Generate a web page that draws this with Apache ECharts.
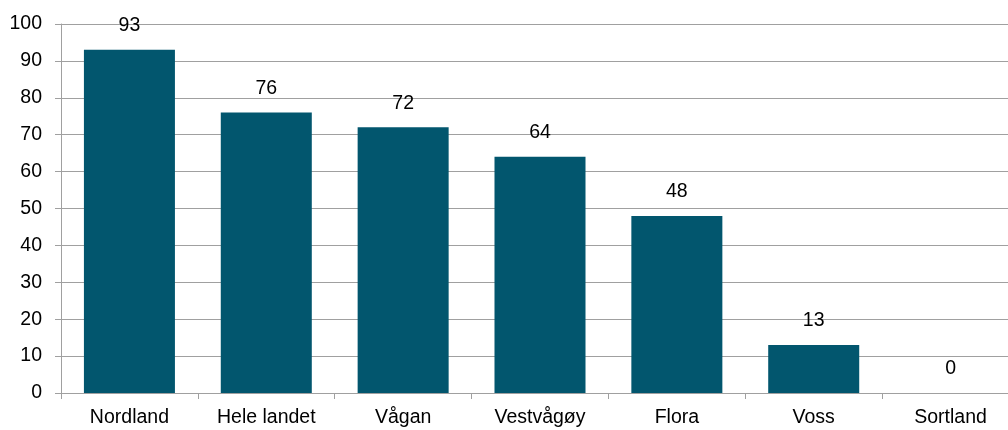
<!DOCTYPE html>
<html>
<head>
<meta charset="utf-8">
<script src="https://cdn.jsdelivr.net/npm/echarts@6/dist/echarts.min.js"></script>
<style>
  html, body { margin: 0; padding: 0; background: #fff; overflow: hidden; }
  #chart { width: 1020px; height: 430px; }
</style>
</head>
<body>
<div id="chart"></div>
<script>
const categories = ['Nordland', 'Hele landet', 'Vågan', 'Vestvågøy', 'Flora', 'Voss', 'Sortland'];
const values = [93, 76, 72, 64, 48, 13, 0];
const yTicks = { min: 0, max: 100, interval: 10 };

const font = 'Arial, "Liberation Sans", sans-serif';

// plot area runs a bit past the right edge of the picture, like the original
const chart = echarts.init(document.getElementById('chart'));
chart.setOption({
  animation: false,
  grid: { left: 61, top: 24, bottom: 37, right: 1 },
  xAxis: {
    type: 'category',
    data: categories,
    axisLine: { lineStyle: { color: '#a0a0a0', width: 1 } },
    axisTick: { show: true, length: 6, lineStyle: { color: '#a0a0a0' } },
    axisLabel: { color: '#000', fontSize: 19.5, fontFamily: font, margin: 15 }
  },
  yAxis: {
    type: 'value',
    min: yTicks.min,
    max: yTicks.max,
    interval: yTicks.interval,
    axisLine: { show: true, lineStyle: { color: '#a0a0a0', width: 1 } },
    axisTick: { show: true, length: 6, lineStyle: { color: '#a0a0a0' } },
    splitLine: { lineStyle: { color: '#a0a0a0', width: 1 } },
    axisLabel: { color: '#000', fontSize: 19.5, fontFamily: font, margin: 19 }
  },
  series: [{
    type: 'bar',
    data: values,
    barWidth: '66.5%',
    itemStyle: { color: '#02566e' },
    label: {
      show: true,
      position: 'top',
      distance: 14,
      color: '#000',
      fontSize: 19.5,
      fontFamily: font
    }
  }]
});
</script>
</body>
</html>
